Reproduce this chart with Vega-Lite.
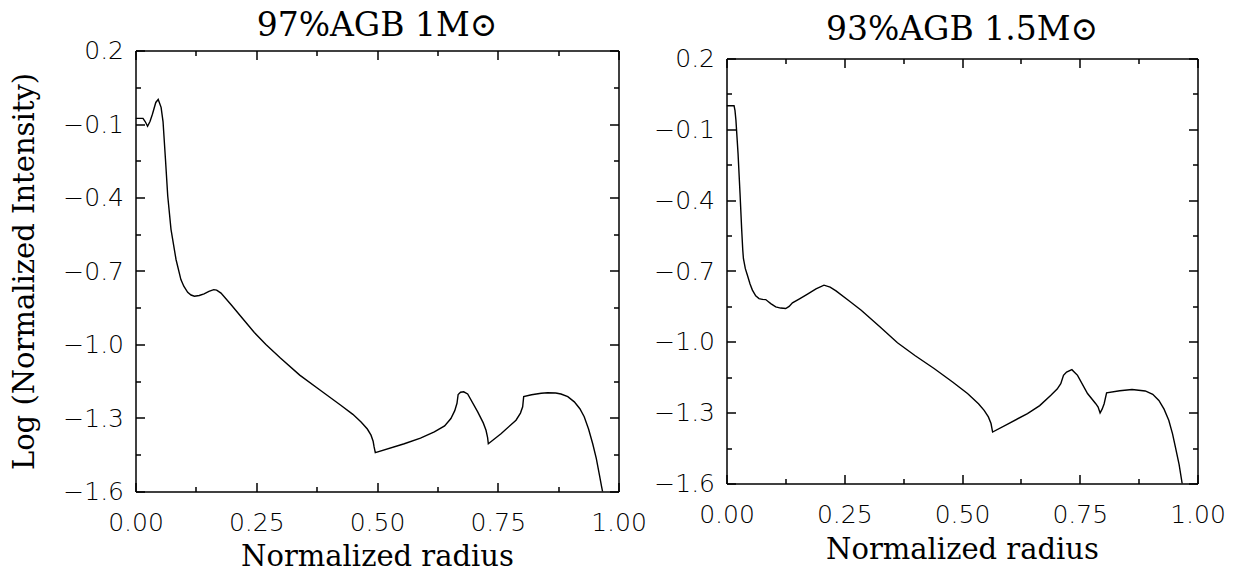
{
  "$schema": "https://vega.github.io/schema/vega-lite/v6.json",
  "background": "white",
  "padding": {"left": 10.5, "top": 9.5, "right": 5, "bottom": 2},
  "datasets": {
    "agb97": [
      {"r": 0.0, "v": -0.077}, {"r": 0.0155, "v": -0.077}, {"r": 0.02, "v": -0.09}, {"r": 0.025, "v": -0.109},
      {"r": 0.03, "v": -0.09}, {"r": 0.035, "v": -0.06}, {"r": 0.042, "v": -0.012}, {"r": 0.047, "v": 0.0},
      {"r": 0.053, "v": -0.032}, {"r": 0.057, "v": -0.09}, {"r": 0.062, "v": -0.243}, {"r": 0.0667, "v": -0.393},
      {"r": 0.0735, "v": -0.53}, {"r": 0.0839, "v": -0.653}, {"r": 0.094, "v": -0.735}, {"r": 0.1, "v": -0.762},
      {"r": 0.108, "v": -0.787}, {"r": 0.115, "v": -0.798}, {"r": 0.122, "v": -0.803}, {"r": 0.132, "v": -0.8},
      {"r": 0.142, "v": -0.793}, {"r": 0.152, "v": -0.783}, {"r": 0.162, "v": -0.776}, {"r": 0.168, "v": -0.778},
      {"r": 0.177, "v": -0.79}, {"r": 0.198, "v": -0.838}, {"r": 0.22, "v": -0.89}, {"r": 0.246, "v": -0.951},
      {"r": 0.27, "v": -1.0}, {"r": 0.3, "v": -1.055}, {"r": 0.34, "v": -1.125}, {"r": 0.384, "v": -1.189},
      {"r": 0.425, "v": -1.248}, {"r": 0.45, "v": -1.285}, {"r": 0.467, "v": -1.316}, {"r": 0.48, "v": -1.345},
      {"r": 0.4876, "v": -1.37}, {"r": 0.492, "v": -1.395}, {"r": 0.494, "v": -1.418}, {"r": 0.4965, "v": -1.441},
      {"r": 0.5565, "v": -1.405}, {"r": 0.59, "v": -1.382}, {"r": 0.6187, "v": -1.357}, {"r": 0.64, "v": -1.332},
      {"r": 0.653, "v": -1.302}, {"r": 0.661, "v": -1.27}, {"r": 0.6656, "v": -1.24}, {"r": 0.668, "v": -1.204},
      {"r": 0.673, "v": -1.195}, {"r": 0.6795, "v": -1.193}, {"r": 0.6877, "v": -1.202}, {"r": 0.7085, "v": -1.275},
      {"r": 0.72, "v": -1.32}, {"r": 0.7257, "v": -1.35}, {"r": 0.729, "v": -1.38}, {"r": 0.7305, "v": -1.405},
      {"r": 0.7567, "v": -1.364}, {"r": 0.7878, "v": -1.309}, {"r": 0.797, "v": -1.28}, {"r": 0.8016, "v": -1.254},
      {"r": 0.8037, "v": -1.213}, {"r": 0.82, "v": -1.205}, {"r": 0.84, "v": -1.199}, {"r": 0.8534, "v": -1.197},
      {"r": 0.87, "v": -1.198}, {"r": 0.8809, "v": -1.202}, {"r": 0.895, "v": -1.213}, {"r": 0.9085, "v": -1.234},
      {"r": 0.92, "v": -1.262}, {"r": 0.929, "v": -1.295}, {"r": 0.938, "v": -1.345}, {"r": 0.9466, "v": -1.405},
      {"r": 0.954, "v": -1.465}, {"r": 0.96, "v": -1.527}, {"r": 0.965, "v": -1.58}, {"r": 0.969, "v": -1.62}
    ],
    "agb93": [
      {"r": 0.0, "v": 0.0}, {"r": 0.016, "v": 0.0}, {"r": 0.018, "v": -0.02}, {"r": 0.02, "v": -0.061},
      {"r": 0.0245, "v": -0.202}, {"r": 0.0287, "v": -0.371}, {"r": 0.0323, "v": -0.527}, {"r": 0.0345, "v": -0.61},
      {"r": 0.0359, "v": -0.647}, {"r": 0.04, "v": -0.69}, {"r": 0.0444, "v": -0.718}, {"r": 0.05, "v": -0.755},
      {"r": 0.055, "v": -0.781}, {"r": 0.062, "v": -0.805}, {"r": 0.069, "v": -0.817}, {"r": 0.076, "v": -0.82},
      {"r": 0.0833, "v": -0.821}, {"r": 0.089, "v": -0.83}, {"r": 0.094, "v": -0.838}, {"r": 0.1045, "v": -0.852},
      {"r": 0.115, "v": -0.857}, {"r": 0.1257, "v": -0.859}, {"r": 0.133, "v": -0.85}, {"r": 0.14, "v": -0.835},
      {"r": 0.155, "v": -0.818}, {"r": 0.172, "v": -0.798}, {"r": 0.19, "v": -0.776}, {"r": 0.207, "v": -0.76},
      {"r": 0.22, "v": -0.768}, {"r": 0.2325, "v": -0.784}, {"r": 0.26, "v": -0.826}, {"r": 0.286, "v": -0.866},
      {"r": 0.325, "v": -0.935}, {"r": 0.363, "v": -1.004}, {"r": 0.4, "v": -1.058}, {"r": 0.4407, "v": -1.113},
      {"r": 0.48, "v": -1.17}, {"r": 0.5117, "v": -1.219}, {"r": 0.535, "v": -1.262}, {"r": 0.547, "v": -1.29},
      {"r": 0.556, "v": -1.318}, {"r": 0.5616, "v": -1.346}, {"r": 0.565, "v": -1.382}, {"r": 0.6, "v": -1.345},
      {"r": 0.639, "v": -1.304}, {"r": 0.665, "v": -1.27}, {"r": 0.6887, "v": -1.226}, {"r": 0.702, "v": -1.2},
      {"r": 0.7097, "v": -1.177}, {"r": 0.7155, "v": -1.142}, {"r": 0.722, "v": -1.128}, {"r": 0.7333, "v": -1.118},
      {"r": 0.7453, "v": -1.142}, {"r": 0.7665, "v": -1.219}, {"r": 0.784, "v": -1.262}, {"r": 0.789, "v": -1.276},
      {"r": 0.7932, "v": -1.301}, {"r": 0.7975, "v": -1.285}, {"r": 0.8018, "v": -1.262}, {"r": 0.807, "v": -1.216},
      {"r": 0.835, "v": -1.207}, {"r": 0.861, "v": -1.202}, {"r": 0.889, "v": -1.208}, {"r": 0.905, "v": -1.222},
      {"r": 0.918, "v": -1.248}, {"r": 0.929, "v": -1.285}, {"r": 0.939, "v": -1.332}, {"r": 0.947, "v": -1.39},
      {"r": 0.953, "v": -1.445}, {"r": 0.961, "v": -1.52}, {"r": 0.969, "v": -1.62}
    ]
  },
  "bounds": "flush",
  "center": true,
  "spacing": 108,
  "hconcat": [
    {
      "width": 483,
      "height": 441,
      "title": {"text": "97%AGB 1M⊙", "font": "DejaVu Serif", "fontSize": 33, "fontWeight": "normal", "color": "black", "anchor": "middle", "frame": "group", "baseline": "alphabetic", "offset": -30},
      "data": {"name": "agb97"},
      "layer": [
        {
          "mark": {"type": "line", "color": "black", "strokeWidth": 1.4, "clip": true},
          "encoding": {
            "x": {"field": "r", "type": "quantitative", "scale": {"domain": [0, 1], "nice": false, "zero": false},
              "axis": {"orient": "bottom", "title": "Normalized radius", "values": [0, 0.125, 0.25, 0.375, 0.5, 0.625, 0.75, 0.875, 1],
                "labelExpr": "abs(datum.value*4-round(datum.value*4))<0.001 ? format(datum.value, '.2f') : ''",
                "tickSize": {"condition": {"test": "abs(datum.value*4-round(datum.value*4))<0.001", "value": -9}, "value": -5},
                "labelPadding": 28, "titlePadding": 3}},
            "y": {"field": "v", "type": "quantitative", "scale": {"domain": [-1.6, 0.2], "nice": false, "zero": false},
              "axis": {"orient": "left", "title": "Log (Normalized Intensity)", "values": [0.2, 0.05, -0.1, -0.25, -0.4, -0.55, -0.7, -0.85, -1.0, -1.15, -1.3, -1.45, -1.6],
                "labelExpr": "abs(datum.value*10-round(datum.value*10))<0.001 ? format(datum.value, '.1f') : ''",
                "tickSize": {"condition": {"test": "abs(datum.value*10-round(datum.value*10))<0.001", "value": -9}, "value": -5},
                "labelPadding": 21, "titlePadding": 23}}
          }
        },
        {
          "mark": {"type": "line", "color": "black", "strokeOpacity": 0},
          "encoding": {
            "x": {"field": "r", "type": "quantitative",
              "axis": {"orient": "top", "title": null, "labels": false, "values": [0, 0.125, 0.25, 0.375, 0.5, 0.625, 0.75, 0.875, 1],
                "tickSize": {"condition": {"test": "abs(datum.value*4-round(datum.value*4))<0.001", "value": -9}, "value": -5}}},
            "y": {"field": "v", "type": "quantitative",
              "axis": {"orient": "right", "title": null, "labels": false, "values": [0.2, 0.05, -0.1, -0.25, -0.4, -0.55, -0.7, -0.85, -1.0, -1.15, -1.3, -1.45, -1.6],
                "tickSize": {"condition": {"test": "abs(datum.value*10-round(datum.value*10))<0.001", "value": -9}, "value": -5}}}
          }
        }
      ],
      "resolve": {"axis": {"x": "independent", "y": "independent"}}
    },
    {
      "width": 471,
      "height": 425,
      "title": {"text": "93%AGB 1.5M⊙", "font": "DejaVu Serif", "fontSize": 33, "fontWeight": "normal", "color": "black", "anchor": "middle", "frame": "group", "baseline": "alphabetic", "offset": -26},
      "data": {"name": "agb93"},
      "layer": [
        {
          "mark": {"type": "line", "color": "black", "strokeWidth": 1.4, "clip": true},
          "encoding": {
            "x": {"field": "r", "type": "quantitative", "scale": {"domain": [0, 1], "nice": false, "zero": false},
              "axis": {"orient": "bottom", "title": "Normalized radius", "values": [0, 0.125, 0.25, 0.375, 0.5, 0.625, 0.75, 0.875, 1],
                "labelExpr": "abs(datum.value*4-round(datum.value*4))<0.001 ? format(datum.value, '.2f') : ''",
                "tickSize": {"condition": {"test": "abs(datum.value*4-round(datum.value*4))<0.001", "value": -9}, "value": -5},
                "labelPadding": 28, "titlePadding": 4}},
            "y": {"field": "v", "type": "quantitative", "scale": {"domain": [-1.6, 0.2], "nice": false, "zero": false},
              "axis": {"orient": "left", "title": null, "values": [0.2, 0.05, -0.1, -0.25, -0.4, -0.55, -0.7, -0.85, -1.0, -1.15, -1.3, -1.45, -1.6],
                "labelExpr": "abs(datum.value*10-round(datum.value*10))<0.001 ? format(datum.value, '.1f') : ''",
                "tickSize": {"condition": {"test": "abs(datum.value*10-round(datum.value*10))<0.001", "value": -9}, "value": -5},
                "labelPadding": 21}}
          }
        },
        {
          "mark": {"type": "line", "color": "black", "strokeOpacity": 0},
          "encoding": {
            "x": {"field": "r", "type": "quantitative",
              "axis": {"orient": "top", "title": null, "labels": false, "values": [0, 0.125, 0.25, 0.375, 0.5, 0.625, 0.75, 0.875, 1],
                "tickSize": {"condition": {"test": "abs(datum.value*4-round(datum.value*4))<0.001", "value": -9}, "value": -5}}},
            "y": {"field": "v", "type": "quantitative",
              "axis": {"orient": "right", "title": null, "labels": false, "values": [0.2, 0.05, -0.1, -0.25, -0.4, -0.55, -0.7, -0.85, -1.0, -1.15, -1.3, -1.45, -1.6],
                "tickSize": {"condition": {"test": "abs(datum.value*10-round(datum.value*10))<0.001", "value": -9}, "value": -5}}}
          }
        }
      ],
      "resolve": {"axis": {"x": "independent", "y": "independent"}}
    }
  ],
  "config": {
    "view": {"stroke": null},
    "axis": {
      "grid": false,
      "domainColor": "black", "domainWidth": 1.5,
      "tickColor": "black", "tickWidth": 1.5,
      "labelFont": "DejaVu Sans", "labelFontSize": 25, "labelFontWeight": 200, "labelColor": "black",
      "labelFlush": false, "labelOverlap": false,
      "titleFont": "DejaVu Serif", "titleFontSize": 29, "titleFontWeight": "normal", "titleColor": "black"
    }
  }
}
